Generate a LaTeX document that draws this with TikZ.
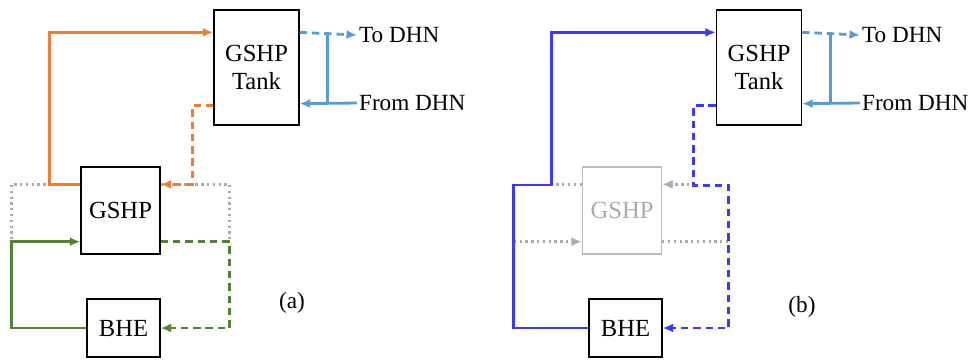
\documentclass[tikz,border=0pt]{standalone}
\usepackage{fontspec}
\setmainfont{Liberation Serif}
\usetikzlibrary{arrows.meta}

\definecolor{hotOrange}{HTML}{ED7D31}
\definecolor{loopGreen}{HTML}{548235}
\definecolor{dhnBlue}{HTML}{5B9BD5}
\definecolor{bypassBlue}{HTML}{3A3AFF}
\definecolor{offGray}{HTML}{ABABAB}

\begin{document}
\begin{tikzpicture}[x=0.02cm,y=-0.02cm,
  box/.style={draw=black,line width=0.75pt,inner sep=0pt,align=center,
    font=\fontsize{14}{16}\selectfont},
  lbl/.style={inner sep=1pt,font=\fontsize{13.2}{15}\selectfont},
  pipe/.style={line width=1.6pt},
  flow/.style={pipe,dash pattern=on 4.2pt off 2.8pt},
  idle/.style={line width=1.4pt,offGray,dash pattern=on 1.3pt off 2pt},
  tip/.style={-{Latex[length=2.1mm,width=1.8mm]}}]
\useasboundingbox (0,0) rectangle (970,360);

% (a) heat pump in operation
\node[box,minimum width=1.7cm,minimum height=2.3cm] (tankA) at (256.5,67.5) {GSHP\\Tank};
\node[box,minimum width=1.58cm,minimum height=1.74cm] (gshpA) at (120.5,210.5) {GSHP};
\node[box,minimum width=1.46cm,minimum height=1.16cm] (bheA) at (123.5,328) {BHE};
\node[lbl,anchor=west] (toA) at (357,35) {To DHN};
\node[lbl,anchor=west] (fromA) at (357,103) {From DHN};
\node[lbl] (capA) at (292,303) {(a)};

\draw[idle] ([yshift=-0.36cm]gshpA.north west) -- ++(-69,0) -- ++(0,56);
\draw[idle] ([yshift=-0.36cm]gshpA.north east) -- ++(69,0) -- ++(0,56);

\draw[pipe,hotOrange,tip] ([yshift=-0.36cm]gshpA.north west) -- ++(-31,0) |- ([yshift=-0.46cm]tankA.north west);
\draw[flow,hotOrange,tip] ([yshift=0.4cm]tankA.south west) -- ++(-21,0) |- ([yshift=-0.36cm]gshpA.north east);
\draw[pipe,loopGreen,tip] (bheA.west) -- ++(-75,0) |- ([yshift=0.26cm]gshpA.south west);
\draw[flow,loopGreen,tip] ([yshift=0.26cm]gshpA.south east) -- ++(69,0) |- (bheA.east);

\draw[flow,dhnBlue,tip] ([yshift=-0.46cm]tankA.north east) -- (toA.west);
\draw[pipe,dhnBlue,tip] (fromA.west) -- ([yshift=0.44cm]tankA.south east);
\draw[pipe,dhnBlue] ([xshift=0.56cm,yshift=-0.46cm]tankA.north east) -- ([xshift=0.56cm,yshift=0.44cm]tankA.south east);

% (b) heat pump bypassed
\node[box,minimum width=1.7cm,minimum height=2.3cm] (tankB) at (759,67.5) {GSHP\\Tank};
\node[box,draw=offGray!80,text=offGray,minimum width=1.58cm,minimum height=1.74cm] (gshpB) at (622,210.5) {GSHP};
\node[box,minimum width=1.46cm,minimum height=1.16cm] (bheB) at (625.5,328) {BHE};
\node[lbl,anchor=west] (toB) at (860,35) {To DHN};
\node[lbl,anchor=west] (fromB) at (860,103) {From DHN};
\node[lbl] (capB) at (802,307) {(b)};

\draw[idle] ([yshift=-0.36cm]gshpB.north west) -- ++(-30,0);
\draw[idle,tip] ([yshift=-0.36cm]gshpB.north east) ++(33,0) -- ([yshift=-0.36cm]gshpB.north east);
\draw[idle,tip] ([yshift=0.26cm]gshpB.south west) ++(-68,0) -- ([yshift=0.26cm]gshpB.south west);
\draw[idle] ([yshift=0.26cm]gshpB.south east) -- ++(68,0);

\draw[pipe,bypassBlue,tip] (bheB.west) -- ++(-75,0) -- ++(0,-143) -- ++(38,0) |- ([yshift=-0.46cm]tankB.north west);
\draw[flow,bypassBlue,tip] ([yshift=0.4cm]tankB.south west) -- ++(-22,0) -- ++(0,80) -- ++(35,0) |- (bheB.east);

\draw[flow,dhnBlue,tip] ([yshift=-0.46cm]tankB.north east) -- (toB.west);
\draw[pipe,dhnBlue,tip] (fromB.west) -- ([yshift=0.44cm]tankB.south east);
\draw[pipe,dhnBlue] ([xshift=0.56cm,yshift=-0.46cm]tankB.north east) -- ([xshift=0.56cm,yshift=0.44cm]tankB.south east);
\end{tikzpicture}
\end{document}
